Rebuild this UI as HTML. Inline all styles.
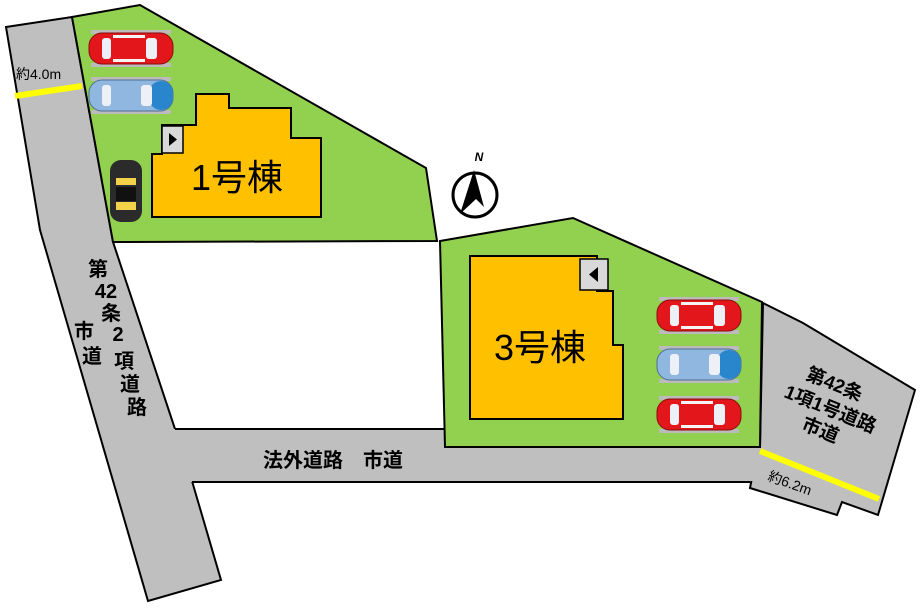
<!DOCTYPE html>
<html><head><meta charset="utf-8"><style>
html,body{margin:0;padding:0;background:#fff;}
svg{display:block;}
text{font-family:"Liberation Sans","Noto Sans CJK JP",sans-serif;fill:#000;}
</style></head><body>
<svg width="921" height="609" viewBox="0 0 921 609" xmlns="http://www.w3.org/2000/svg">
<defs>
<g id="carR">
 <rect x="2" y="0" width="80" height="4" fill="#bbb"/>
 <rect x="2" y="33" width="80" height="4" fill="#bbb"/>
 <rect x="0" y="3" width="84" height="31" rx="13" fill="#e3161b" stroke="#8a0d0d" stroke-width="1"/>
 <rect x="13" y="8" width="9" height="21" rx="3" fill="#eef0f8"/>
 <rect x="57" y="8" width="11" height="21" rx="3" fill="#eef0f8"/>
 <rect x="24" y="5" width="32" height="3" fill="#f4f4f4"/>
 <rect x="24" y="29" width="32" height="3" fill="#f4f4f4"/>
</g>
<g id="carB">
 <rect x="2" y="0" width="80" height="4" fill="#bbb"/>
 <rect x="2" y="33" width="80" height="4" fill="#bbb"/>
 <rect x="0" y="3" width="84" height="31" rx="13" fill="#8fb7e0" stroke="#4d6f95" stroke-width="1"/>
 <rect x="60" y="4" width="24" height="29" rx="12" fill="#2a86cc"/>
 <rect x="13" y="8" width="9" height="21" rx="3" fill="#eef0f8"/>
 <rect x="52" y="8" width="11" height="21" rx="3" fill="#eef0f8"/>
</g>
</defs>

<!-- left road -->
<polygon points="6,27 72,17 113,242 175,429 192,481 221,580 148,601 40,230" fill="#bfbfbf" stroke="#000" stroke-width="2"/>
<!-- horizontal road -->
<polygon points="169,429 760,429 760,482 186,482" fill="#bfbfbf"/>
<line x1="175" y1="429" x2="445" y2="429" stroke="#000" stroke-width="2"/>
<line x1="192" y1="482" x2="750" y2="482" stroke="#000" stroke-width="2"/>
<!-- right road -->
<polygon points="763,303 803,323 915,390 878,515 842,502 837,515 750,488 758,447 760,447" fill="#bfbfbf" stroke="#000" stroke-width="2"/>
<rect x="740" y="448" width="22" height="33" fill="#bfbfbf"/>
<!-- lot 1 -->
<polygon points="72,17 140,5 426,168 437,241 113,242" fill="#92d050" stroke="#000" stroke-width="2"/>
<!-- lot 3 -->
<polygon points="440,241 573,218 762,302 760,447 445,447" fill="#92d050" stroke="#000" stroke-width="2"/>
<!-- yellow lines -->
<line x1="15" y1="96" x2="82" y2="86" stroke="#ffff00" stroke-width="6"/>
<line x1="760" y1="451" x2="879" y2="499" stroke="#ffff00" stroke-width="6"/>

<!-- building 1 -->
<polygon points="152,154 162,154 162,125 196,125 196,94 229,94 229,108 291,108 291,138 321,138 321,217 152,217" fill="#ffc000" stroke="#000" stroke-width="2"/>
<rect x="162" y="126" width="21" height="27" fill="#d9d9d9" stroke="#000" stroke-width="1.5"/>
<polygon points="169,133 177,139.5 169,146" fill="#000"/>
<text x="237" y="190" font-size="36" text-anchor="middle">1号棟</text>

<!-- building 3 -->
<polygon points="470,256 597,256 597,291 613,291 613,345 623,345 623,419 470,419" fill="#ffc000" stroke="#000" stroke-width="2"/>
<rect x="580" y="259" width="28" height="31" fill="#d9d9d9" stroke="#000" stroke-width="1.5"/>
<polygon points="598,267 589,274.5 598,282" fill="#000"/>
<text x="540" y="360" font-size="36" text-anchor="middle">3号棟</text>

<!-- cars -->
<use href="#carR" x="89" y="30"/>
<use href="#carB" x="89" y="77"/>
<g transform="translate(110,160)">
 <rect x="0" y="0" width="32" height="62" rx="11" fill="#2b2b2b"/>
 <rect x="6" y="18" width="20" height="7" fill="#f2d24a"/>
 <rect x="6" y="42" width="20" height="8" fill="#f2d24a"/>
 <rect x="6" y="27" width="20" height="14" fill="#111"/>
</g>
<use href="#carR" x="657" y="297"/>
<use href="#carB" x="657" y="346"/>
<use href="#carR" x="657" y="396"/>

<!-- compass -->
<circle cx="475" cy="195" r="22" fill="#fff" stroke="#000" stroke-width="3"/>
<polygon points="474,170 460,214 476,199 484,207" fill="#000"/>
<text x="479" y="161" font-size="12" font-weight="bold" font-style="italic" text-anchor="middle">N</text>

<!-- labels -->
<text x="16" y="79" font-size="14">約4.0m</text>
<g font-size="20" font-weight="bold" text-anchor="middle">
 <text x="98" y="276">第</text>
 <text x="106" y="298">42</text>
 <text x="111" y="320">条</text>
 <text x="118" y="341">2</text>
 <text x="124" y="368">項</text>
 <text x="130" y="391">道</text>
 <text x="137" y="414">路</text>
 <text x="84" y="338">市</text>
 <text x="92" y="363">道</text>
</g>
<text x="333" y="467" font-size="20" font-weight="bold" text-anchor="middle">法外道路　市道</text>
<g font-size="19" font-weight="bold" text-anchor="middle">
 <text x="0" y="0" transform="translate(832,390) rotate(22)">第42条</text>
 <text x="0" y="0" transform="translate(828,415) rotate(22)">1項1号道路</text>
 <text x="0" y="0" transform="translate(818,436) rotate(22)">市道</text>
</g>
<text x="0" y="0" font-size="14" transform="translate(767,480) rotate(20)">約6.2m</text>
</svg>
</body></html>
